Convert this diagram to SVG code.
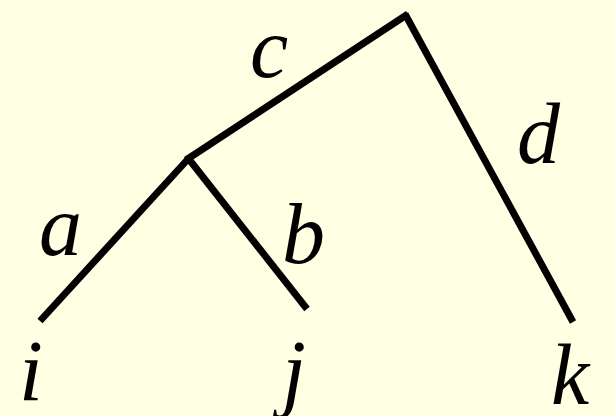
<svg xmlns="http://www.w3.org/2000/svg" width="615" height="416" viewBox="0 0 615 416">
<style>
.edge{stroke:#000;stroke-width:7;fill:none;stroke-linecap:butt}
.lbl{font-family:"Liberation Serif","Times New Roman",serif;font-style:italic;font-size:86px;fill:#000}
</style>
<rect width="615" height="416" fill="#FFFFE3"/>
<g id="connectors">
<line id="edge-a" class="edge" x1="189" y1="158" x2="40" y2="321"/>
<line id="edge-b" class="edge" x1="188" y1="158" x2="307" y2="309"/>
<line id="edge-c" class="edge" x1="186" y1="160" x2="408" y2="14"/>
<line id="edge-d" class="edge" x1="405" y1="14" x2="573" y2="322"/>
</g>
<g id="label-c"><text class="lbl" x="250" y="77">c</text></g>
<g id="label-d"><text class="lbl" x="517" y="163">d</text></g>
<g id="label-a"><text class="lbl" x="39" y="255">a</text></g>
<g id="label-b"><text class="lbl" x="282" y="263">b</text></g>
<g id="node-i"><text class="lbl" x="19" y="400">i</text></g>
<g id="node-j"><text class="lbl" x="282" y="400">j</text></g>
<g id="node-k"><text class="lbl" x="551" y="404">k</text></g>
</svg>
